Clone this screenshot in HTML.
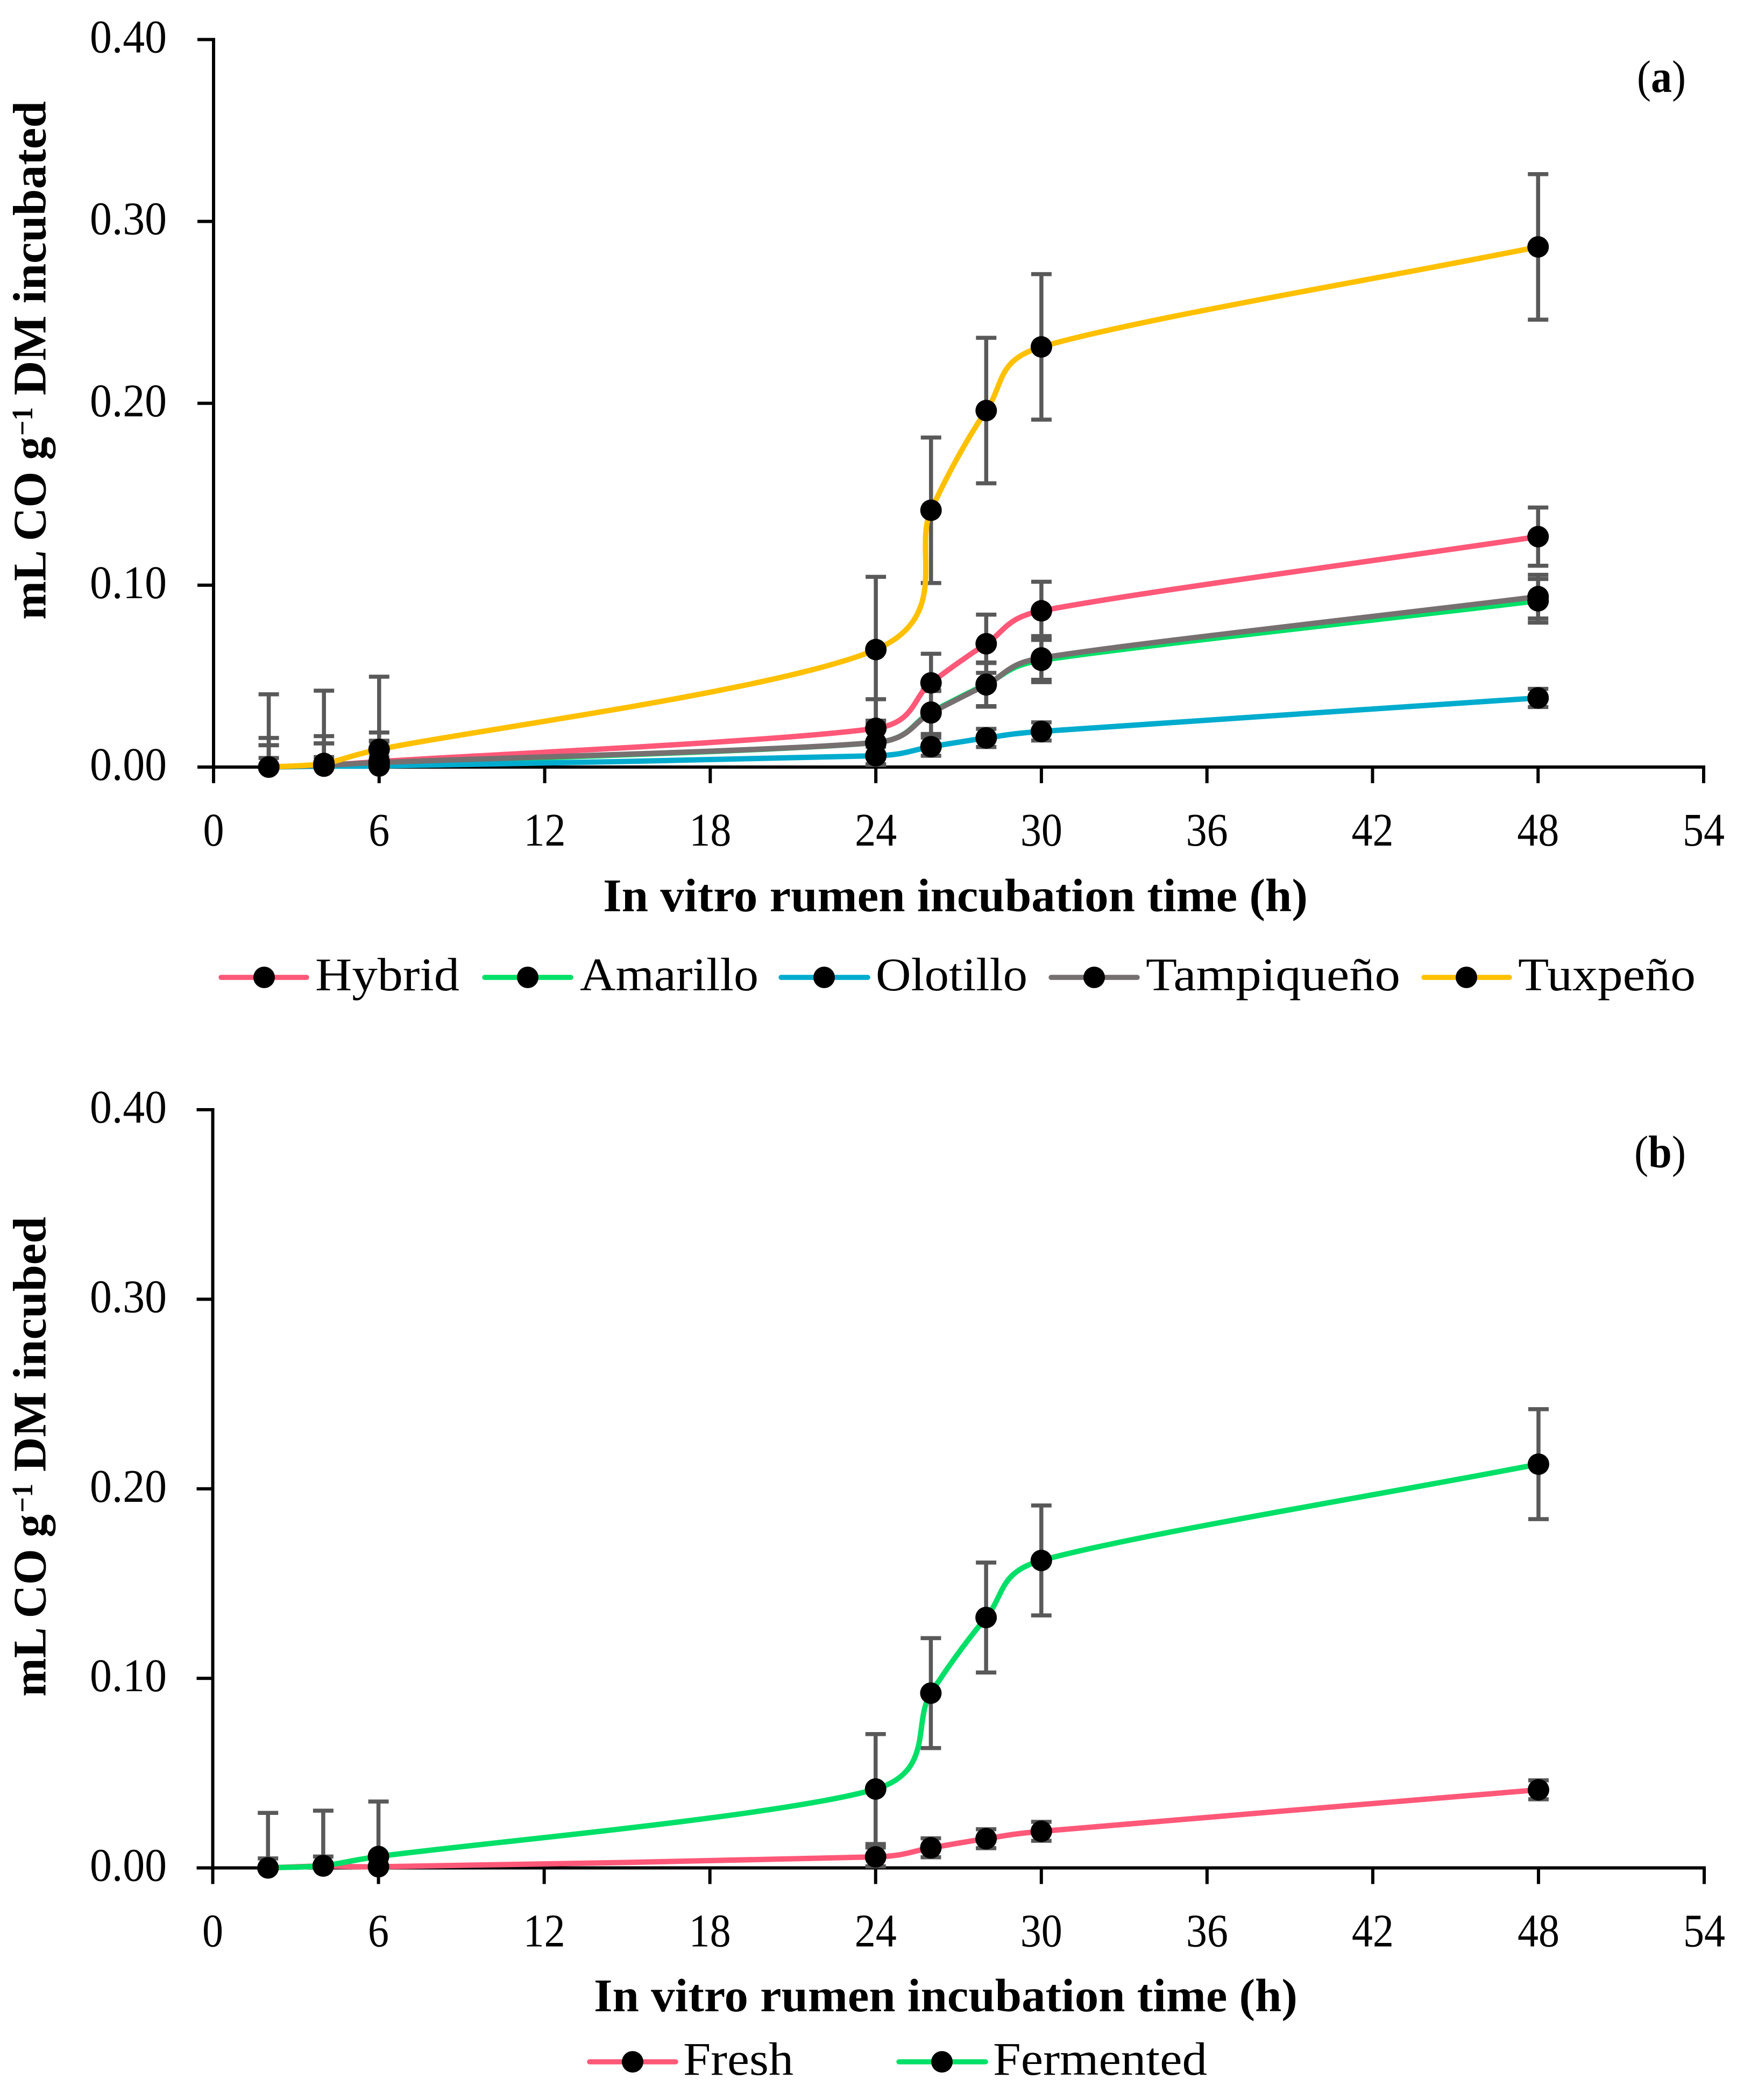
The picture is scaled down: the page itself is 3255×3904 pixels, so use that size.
<!DOCTYPE html>
<html lang="en">
<head>
<meta charset="utf-8">
<title>CO production during in vitro rumen incubation</title>
<style>
  html, body { margin: 0; padding: 0; background: #fff; }
  svg { display: block; font-family: "Liberation Serif", serif; fill: #000; }
  .title { font-weight: bold; font-size: 87px; }
  .sup { font-weight: bold; font-size: 55px; }
  .legend-text { font-size: 87px; }
  .tick { font-size: 87px; }
  .panel { font-size: 85px; }
</style>
</head>
<body>
<svg id="chart" xmlns="http://www.w3.org/2000/svg" width="3255" height="3904" viewBox="0 0 3255 3904">
  <rect x="0" y="0" width="3255" height="3904" fill="#ffffff"/>
  <g id="panel-a"></g>
  <g id="panel-b"></g>

  <text class="panel" x="3043" y="171" textLength="91" lengthAdjust="spacingAndGlyphs">(<tspan font-weight="bold">a</tspan>)</text>
  <text class="panel" x="3038" y="2170" textLength="96" lengthAdjust="spacingAndGlyphs">(<tspan font-weight="bold">b</tspan>)</text>

  <g>
    <text class="title" transform="translate(84.5 1152) rotate(-90)" textLength="340" lengthAdjust="spacingAndGlyphs">mL CO g</text>
    <text class="sup" transform="translate(60 810) rotate(-90)" textLength="53" lengthAdjust="spacingAndGlyphs">−1</text>
    <text class="title" transform="translate(84.5 735) rotate(-90)" textLength="547" lengthAdjust="spacingAndGlyphs">DM incubated</text>
  </g>
  <g>
    <text class="title" transform="translate(84.5 3154) rotate(-90)" textLength="339" lengthAdjust="spacingAndGlyphs">mL CO g</text>
    <text class="sup" transform="translate(60 2812) rotate(-90)" textLength="54" lengthAdjust="spacingAndGlyphs">−1</text>
    <text class="title" transform="translate(84.5 2736) rotate(-90)" textLength="474" lengthAdjust="spacingAndGlyphs">DM incubed</text>
  </g>

  <text class="title" x="1121" y="1694" textLength="1310" lengthAdjust="spacingAndGlyphs">In vitro rumen incubation time (h)</text>
  <text class="title" x="1104" y="3739" textLength="1308" lengthAdjust="spacingAndGlyphs">In vitro rumen incubation time (h)</text>

  <g>
    <g>
      <line x1="411" y1="1817" x2="570" y2="1817" stroke="#FF5878" stroke-width="9.5" stroke-linecap="round"/>
      <circle cx="491" cy="1817" r="20"/>
      <text class="legend-text" x="586" y="1841" textLength="268" lengthAdjust="spacingAndGlyphs">Hybrid</text>
    </g>
    <g>
      <line x1="901" y1="1817" x2="1061" y2="1817" stroke="#00E068" stroke-width="9.5" stroke-linecap="round"/>
      <circle cx="981" cy="1817" r="20"/>
      <text class="legend-text" x="1078" y="1841" textLength="332" lengthAdjust="spacingAndGlyphs">Amarillo</text>
    </g>
    <g>
      <line x1="1452" y1="1817" x2="1613" y2="1817" stroke="#00ACCE" stroke-width="9.5" stroke-linecap="round"/>
      <circle cx="1532" cy="1817" r="20"/>
      <text class="legend-text" x="1628" y="1841" textLength="282" lengthAdjust="spacingAndGlyphs">Olotillo</text>
    </g>
    <g>
      <line x1="1954" y1="1817" x2="2114" y2="1817" stroke="#767070" stroke-width="9.5" stroke-linecap="round"/>
      <circle cx="2034" cy="1817" r="20"/>
      <text class="legend-text" x="2130" y="1841" textLength="473" lengthAdjust="spacingAndGlyphs">Tampiqueño</text>
    </g>
    <g>
      <line x1="2647" y1="1817" x2="2806" y2="1817" stroke="#FFC000" stroke-width="9.5" stroke-linecap="round"/>
      <circle cx="2726" cy="1817" r="20"/>
      <text class="legend-text" x="2822" y="1841" textLength="330" lengthAdjust="spacingAndGlyphs">Tuxpeño</text>
    </g>
  </g>

  <g>
    <g>
      <line x1="1096" y1="3833" x2="1256" y2="3833" stroke="#FF5878" stroke-width="9.5" stroke-linecap="round"/>
      <circle cx="1176" cy="3833" r="20"/>
      <text class="legend-text" x="1270" y="3857" textLength="205" lengthAdjust="spacingAndGlyphs">Fresh</text>
    </g>
    <g>
      <line x1="1671" y1="3833" x2="1832" y2="3833" stroke="#00E068" stroke-width="9.5" stroke-linecap="round"/>
      <circle cx="1751" cy="3833" r="20"/>
      <text class="legend-text" x="1846" y="3857" textLength="398" lengthAdjust="spacingAndGlyphs">Fermented</text>
    </g>
  </g>
</svg>

<script>
// Shared axis data
const hours = [2, 4, 6, 24, 26, 28, 30, 48];
const xTickLabels = [0, 6, 12, 18, 24, 30, 36, 42, 48, 54];
const yTickLabels = [0.00, 0.10, 0.20, 0.30, 0.40];

// Panel (a) series values (mL CO g-1 DM incubated)
const hybridValues     = [0, 0.0010, 0.0030, 0.0213, 0.0463, 0.0678, 0.0859, 0.1267];
const amarilloValues   = [0, 0.0010, 0.0020, 0.0135, 0.0302, 0.0455, 0.0587, 0.0914];
const olotilloValues   = [0, 0.0005, 0.0006, 0.0062, 0.0112, 0.0160, 0.0196, 0.0380];
const tampiquenoValues = [0, 0.0010, 0.0025, 0.0135, 0.0298, 0.0452, 0.0600, 0.0937];
const tuxpenoValues    = [0, 0.0020, 0.0097, 0.0646, 0.1412, 0.1960, 0.2310, 0.2860];

// Panel (a) error-bar half widths
const hybridError = 0.016;
const amarilloError = 0.012;
const olotilloError = 0.005;
const tampiquenoError = 0.012;
const tuxpenoError = 0.040;

// Panel (b) series values
const freshValues     = [0, 0.0010, 0.0006, 0.0058, 0.0106, 0.0154, 0.0193, 0.0412];
const fermentedValues = [0, 0.0012, 0.0060, 0.0416, 0.0922, 0.1321, 0.1622, 0.2130];

// Panel (b) error-bar half widths
const freshError = 0.005;
const fermentedError = 0.029;

const SVG_NS = 'http://www.w3.org/2000/svg';

function makeEl(tag, attrs, parent) {
  const el = document.createElementNS(SVG_NS, tag);
  for (const k in attrs) el.setAttribute(k, attrs[k]);
  parent.appendChild(el);
  return el;
}

function dist(a, b) { return Math.hypot(a[0] - b[0], a[1] - b[1]); }

// Spreadsheet-style smoothed line: Bezier segments whose handle length is capped
function smoothPath(pts) {
  const cap = 0.56;
  let d = 'M' + pts[0][0].toFixed(2) + ' ' + pts[0][1].toFixed(2);
  for (let i = 0; i < pts.length - 1; i++) {
    const p0 = pts[Math.max(0, i - 1)], p1 = pts[i], p2 = pts[i + 1], p3 = pts[Math.min(pts.length - 1, i + 2)];
    const d12 = dist(p1, p2), d02 = dist(p0, p2), d13 = dist(p1, p3);
    let a = (i === 0) ? 1 / 3 : 1 / 6;
    let b = (i === pts.length - 2) ? 1 / 3 : 1 / 6;
    if (a * d02 > d12 * cap) a = (d12 * cap) / d02;
    if (b * d13 > d12 * cap) b = (d12 * cap) / d13;
    const c1 = [p1[0] + a * (p2[0] - p0[0]), p1[1] + a * (p2[1] - p0[1])];
    const c2 = [p2[0] - b * (p3[0] - p1[0]), p2[1] - b * (p3[1] - p1[1])];
    d += 'C' + c1[0].toFixed(2) + ' ' + c1[1].toFixed(2) + ' ' + c2[0].toFixed(2) + ' ' + c2[1].toFixed(2) + ' ' + p2[0].toFixed(2) + ' ' + p2[1].toFixed(2);
  }
  return d;
}

function drawPanel(root, cfg) {
  const xScale = h => cfg.x0 + (h / 54) * (cfg.x1 - cfg.x0);
  const yScale = v => cfg.y0 - (v / 0.40) * (cfg.y0 - cfg.yTop);

  // Axes
  const yAxis = makeEl('line', { x1: cfg.x0, x2: cfg.x0, y1: cfg.yTop - 3, y2: cfg.y0 + 30, stroke: '#000', 'stroke-width': 6 }, root);
  
  
  const xAxis = makeEl('line', { x1: cfg.x0 - 30, x2: cfg.x1 + 3, y1: cfg.y0, y2: cfg.y0, stroke: '#000', 'stroke-width': 6 }, root);
  
  

  yTickLabels.forEach(v => {
    const y = yScale(v);
    const tick = makeEl('line', { x1: cfg.x0 - 30, x2: cfg.x0, y1: y, y2: y, stroke: '#000', 'stroke-width': 6 }, root);
    
    
    const label = makeEl('text', { x: 310, y: y + 24, 'text-anchor': 'end', class: 'tick', textLength: 143, lengthAdjust: 'spacingAndGlyphs' }, root);
    
    
    label.textContent = v.toFixed(2);
  });

  xTickLabels.forEach(h => {
    const x = xScale(h);
    const tick = makeEl('line', { x1: x, x2: x, y1: cfg.y0, y2: cfg.y0 + 30, stroke: '#000', 'stroke-width': 6 }, root);
    
    
    const text = String(h);
    const label = makeEl('text', { x: x, y: cfg.y0 + 146, 'text-anchor': 'middle', class: 'tick', textLength: text.length * 39, lengthAdjust: 'spacingAndGlyphs' }, root);
    
    
    label.textContent = text;
  });

  // Error bars go beneath all lines and markers
  cfg.series.forEach(s => {
    const g = makeEl('g', { stroke: '#595959', 'stroke-width': 7.5, fill: 'none' }, root);
    
    
    s.values.forEach((v, i) => {
      const x = xScale(hours[i]);
      const top = yScale(v + s.error);
      const low = v - s.error;
      const bottom = yScale(Math.max(0, low));
      const stem = makeEl('line', { x1: x, x2: x, y1: top, y2: bottom }, g);
      
      
      const capTop = makeEl('line', { x1: x - 19, x2: x + 19, y1: top, y2: top }, g);
      
      
      if (low >= 0) {
        const capLow = makeEl('line', { x1: x - 19, x2: x + 19, y1: bottom, y2: bottom }, g);
        
        
      }
    });
  });

  // Lines
  cfg.series.forEach(s => {
    const pts = s.values.map((v, i) => [xScale(hours[i]), yScale(v)]);
    const line = makeEl('path', { d: smoothPath(pts), fill: 'none', stroke: s.color, 'stroke-width': 10, 'stroke-linejoin': 'round' }, root);
    
    
  });

  // Markers
  cfg.series.forEach(s => {
    s.values.forEach((v, i) => {
      const dot = makeEl('circle', { cx: xScale(hours[i]), cy: yScale(v), r: 20, fill: '#000' }, root);
      
      
    });
  });
}

drawPanel(document.getElementById('panel-a'), {
  x0: 397, x1: 3167, y0: 1426, yTop: 73.5,
  series: [
    { key: 'hybrid', color: '#FF5878', values: hybridValues, error: hybridError },
    { key: 'amarillo', color: '#00E068', values: amarilloValues, error: amarilloError },
    { key: 'olotillo', color: '#00ACCE', values: olotilloValues, error: olotilloError },
    { key: 'tampiqueno', color: '#767070', values: tampiquenoValues, error: tampiquenoError },
    { key: 'tuxpeno', color: '#FFC000', values: tuxpenoValues, error: tuxpenoError }
  ]
});

drawPanel(document.getElementById('panel-b'), {
  x0: 395.5, x1: 3168, y0: 3472.5, yTop: 2063,
  series: [
    { key: 'fresh', color: '#FF5878', values: freshValues, error: freshError },
    { key: 'fermented', color: '#00E068', values: fermentedValues, error: fermentedError }
  ]
});
</script>
</body>
</html>
